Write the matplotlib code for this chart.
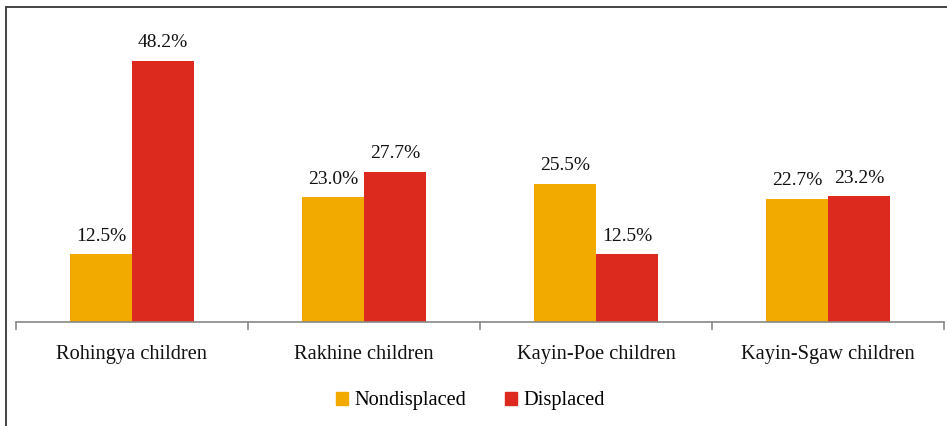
import matplotlib.pyplot as plt
import numpy as np
from matplotlib.lines import Line2D
from matplotlib.patches import Patch

# Дані
categories = ['Rohingya children', 'Rakhine children', 'Kayin-Poe children', 'Kayin-Sgaw children']
nondisplaced = [12.5, 23.0, 25.5, 22.7]
displaced = [48.2, 27.7, 12.5, 23.2]
series_names = ['Nondisplaced', 'Displaced']

orange = '#F2A900'
red = '#DC2A1F'

plt.rcParams['font.family'] = ['Liberation Serif', 'DejaVu Serif']

W, H = 947, 426
fig = plt.figure(figsize=(W / 100, H / 100), dpi=100)
# вісь: x від 16 до 944 px, базова лінія на y=322 px
ax = fig.add_axes([16 / W, (H - 322) / H, (944 - 16) / W, (322 - 24) / H])

x = np.arange(len(categories))
w = 0.267
b1 = ax.bar(x - w / 2, nondisplaced, w, color=orange)
b2 = ax.bar(x + w / 2, displaced, w, color=red)

for bars, vals in [(b1, nondisplaced), (b2, displaced)]:
    for r, v in zip(bars, vals):
        ax.annotate(f'{v:.1f}%', (r.get_x() + r.get_width() / 2, v),
                    xytext=(0, 7), textcoords='offset points',
                    ha='center', va='bottom', fontsize=14, color='#111111')

ax.set_xlim(-0.5, len(categories) - 0.5)
ax.set_ylim(0, 298 / 5.415)
for s in ['top', 'right', 'left']:
    ax.spines[s].set_visible(False)
ax.spines['bottom'].set_color('#888888')
ax.spines['bottom'].set_linewidth(1.2)
ax.set_yticks([])
ax.set_xticks(np.arange(len(categories) + 1) - 0.5)
ax.set_xticklabels([])
ax.tick_params(axis='x', length=6, width=1.2, color='#888888')
ax.set_xticks(x, minor=True)
ax.set_xticklabels(categories, minor=True, fontsize=14.7, color='#111111')
ax.tick_params(axis='x', which='minor', length=0, pad=16.5)

handles = [Patch(color=orange), Patch(color=red)]
fig.legend(handles, series_names, loc='center', bbox_to_anchor=(470 / W, (H - 401) / H),
           ncol=2, frameon=False, fontsize=14.7, handlelength=0.6, handleheight=0.6,
           handletextpad=0.3, columnspacing=1.9)

# рамка
fig.add_artist(Line2D([6 / W, 6 / W], [0, 1 - 7 / H], color='#222222', lw=1.2))
fig.add_artist(Line2D([6 / W, 1], [1 - 7 / H, 1 - 7 / H], color='#444444', lw=1.4))

fig.savefig('out.png', dpi=100)
